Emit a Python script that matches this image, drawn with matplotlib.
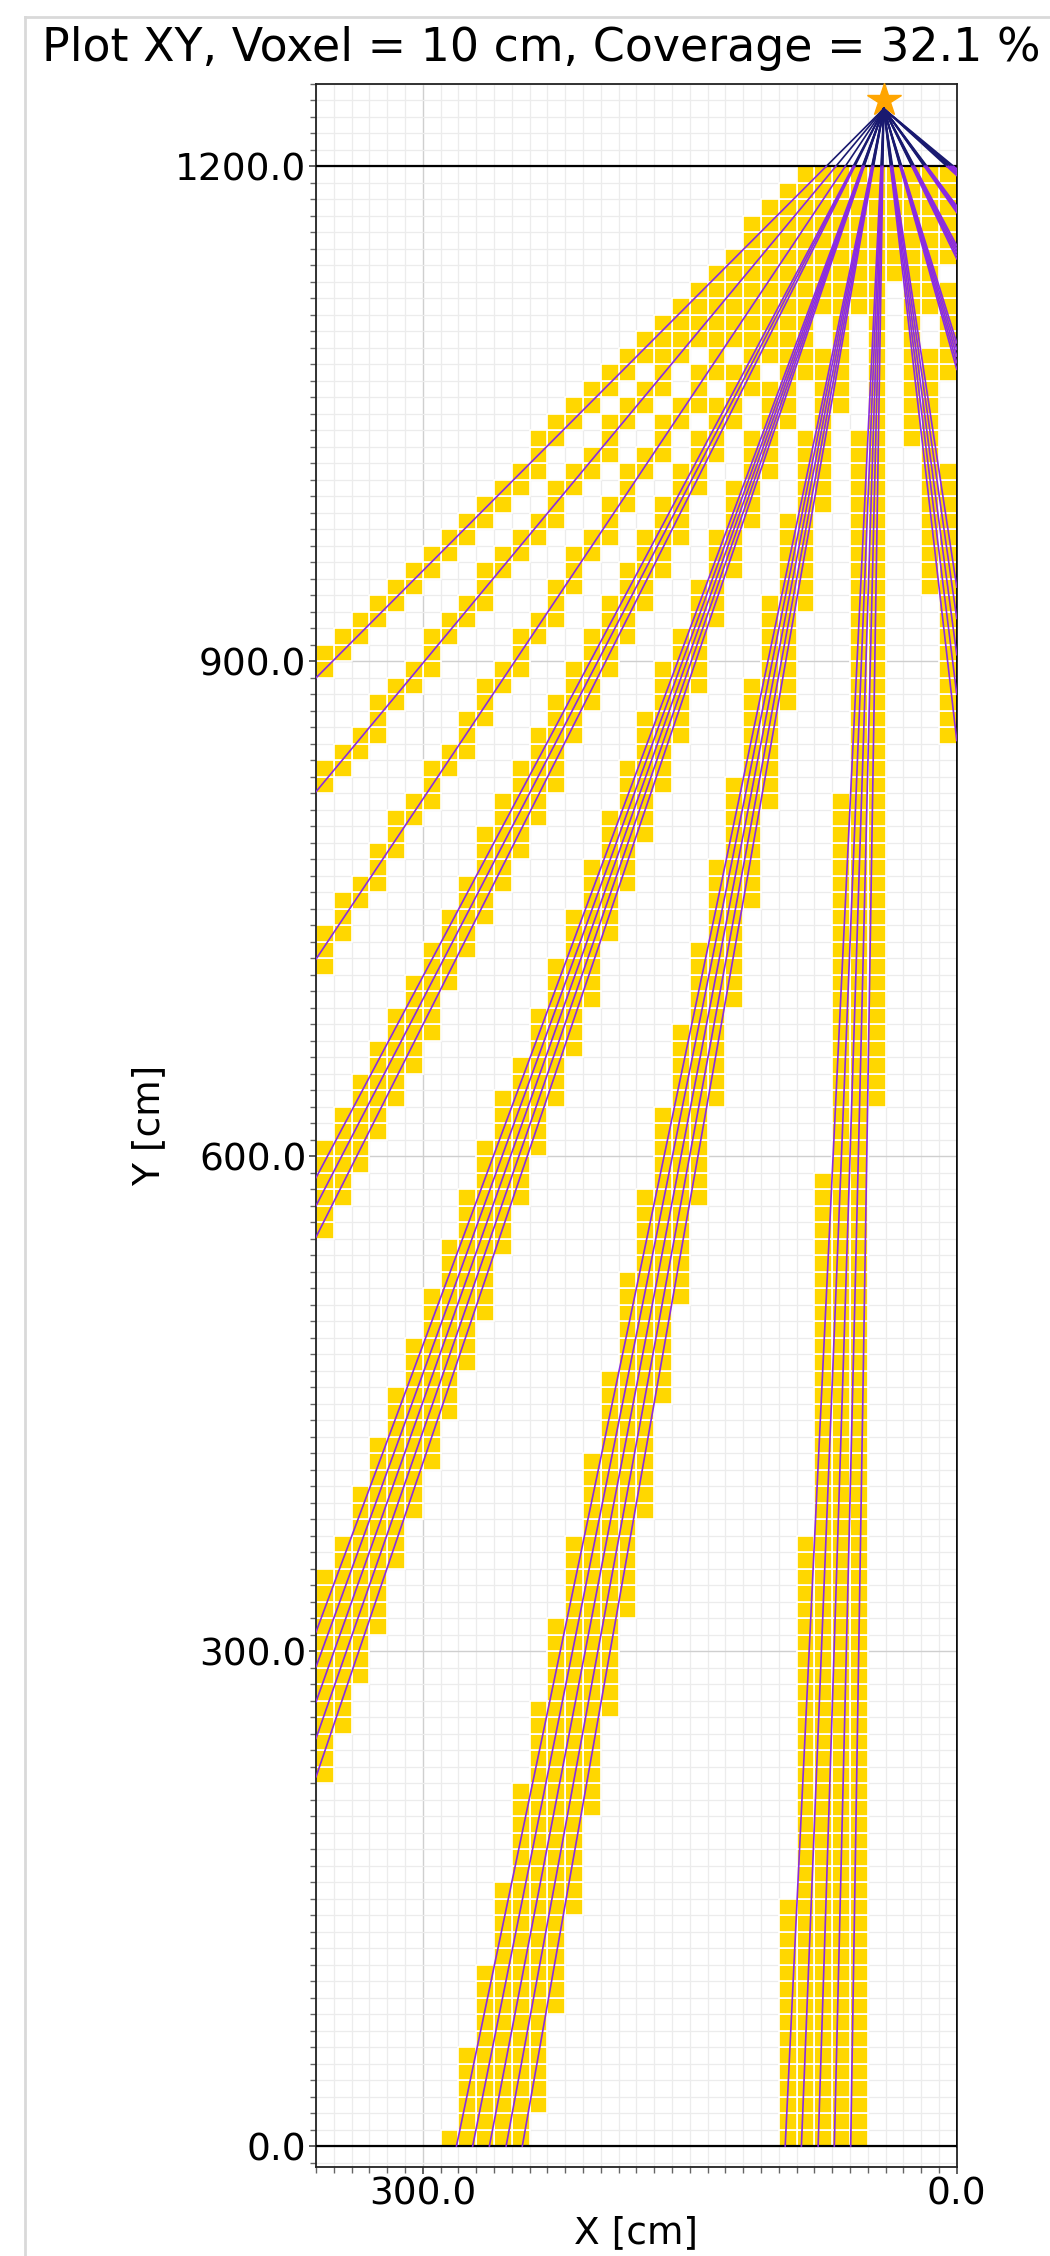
import numpy as np
import matplotlib
matplotlib.use("Agg")
import matplotlib.pyplot as plt
from matplotlib.patches import Rectangle
from matplotlib.collections import PatchCollection
from matplotlib.ticker import MultipleLocator, FormatStrFormatter

# ---- scene parameters (cm) ----
voxel = 10.0
room_top = 1200.0
room_floor = 0.0
view_x = (360.0, 0.0)
view_y = (-12.5, 1250.0)
sensor_x = 41.0
sensor_y = 1235.0

# beams leaving the view through the left edge (x = 360): exit heights
left_exit_y = [890.0, 821.0, 719.5,
               587.0, 570.0, 551.0,
               311.7, 290.5, 269.3, 247.1, 223.8]
# beams ending on the floor (y = 0): exit x positions
floor_exit_x = [281.1, 272.0, 262.6, 253.2, 244.1,
                96.4, 87.3, 77.9, 68.8, 59.6]
# beams ending on the wall x = 0: exit heights
wall_exit_y = [1198.5, 1197.5, 1196.5, 1195.5, 1194.5,
               1176.0, 1175.0, 1174.0, 1173.0, 1172.0,
               1152.0, 1150.0, 1148.0, 1146.0, 1144.0,
               1093.0, 1089.0, 1085.0, 1081.0, 1077.0,
               945.0, 926.0, 904.0, 880.0, 852.0]

title = "Plot XY, Voxel = 10 cm, Coverage = 32.1 %"

# ---- beam end points ----
ends = ([(view_x[0], y) for y in left_exit_y]
        + [(x, room_floor) for x in floor_exit_x]
        + [(0.0, y) for y in wall_exit_y])


def traversed_cells(p0, p1, size):
    """Grid cells crossed by the segment p0 -> p1 (Amanatides & Woo)."""
    x0, y0 = p0
    x1, y1 = p1
    dx, dy = x1 - x0, y1 - y0
    ix, iy = int(np.floor(x0 / size)), int(np.floor(y0 / size))
    sx = 1 if dx > 0 else -1
    sy = 1 if dy > 0 else -1
    if dx != 0:
        nx = (ix + (1 if sx > 0 else 0)) * size
        tmx = (nx - x0) / dx
        tdx = size / abs(dx)
    else:
        tmx, tdx = np.inf, np.inf
    if dy != 0:
        ny = (iy + (1 if sy > 0 else 0)) * size
        tmy = (ny - y0) / dy
        tdy = size / abs(dy)
    else:
        tmy, tdy = np.inf, np.inf
    cells = [(ix, iy)]
    while min(tmx, tmy) < 1.0 - 1e-9:
        if tmx < tmy:
            ix += sx
            tmx += tdx
        else:
            iy += sy
            tmy += tdy
        cells.append((ix, iy))
    return cells


nx_cells = int(round(view_x[0] / voxel))
ny_cells = int(round(room_top / voxel))
hit = set()
for ex, ey in ends:
    for c in traversed_cells((sensor_x, sensor_y), (ex, ey), voxel):
        if 0 <= c[0] < nx_cells and 0 <= c[1] < ny_cells:
            hit.add(c)

# ---- figure ----
fig = plt.figure(figsize=(10.5, 22.56), dpi=100)
fig.patch.set_facecolor("white")

# card outline around the plot
fig.add_artist(plt.Line2D([0.024, 0.024], [0.0, 0.9925], transform=fig.transFigure,
                          color="#d9d9d9", lw=2.0))
fig.add_artist(plt.Line2D([0.024, 1.0], [0.9925, 0.9925], transform=fig.transFigure,
                          color="#d9d9d9", lw=2.0))

ax = fig.add_axes([0.301, 0.0396, 0.6102, 0.9232])
ax.set_xlim(*view_x)
ax.set_ylim(*view_y)

ax.xaxis.set_major_locator(MultipleLocator(300))
ax.yaxis.set_major_locator(MultipleLocator(300))
ax.xaxis.set_minor_locator(MultipleLocator(voxel))
ax.yaxis.set_minor_locator(MultipleLocator(voxel))
ax.xaxis.set_major_formatter(FormatStrFormatter("%.1f"))
ax.yaxis.set_major_formatter(FormatStrFormatter("%.1f"))
ax.grid(which="minor", color="#ececec", lw=0.9)
ax.grid(which="major", color="#cfcfcf", lw=1.0)
ax.set_axisbelow(True)
ax.tick_params(which="major", direction="out", length=5, width=1.2, pad=2,
               labelsize=27, color="#444444")
ax.tick_params(which="minor", direction="out", length=4, width=1.0,
               color="#666666")
for s in ax.spines.values():
    s.set_linewidth(1.3)
    s.set_color("#222222")

# voxels
patches = [Rectangle((i * voxel, j * voxel), voxel, voxel) for i, j in sorted(hit)]
ax.add_collection(PatchCollection(patches, facecolor="#FFD700", edgecolor="white",
                                  linewidth=1.2, zorder=2))

# room boundaries
ax.plot([view_x[0], 0.0], [room_top, room_top], color="black", lw=1.6, zorder=3)
ax.plot([view_x[0], 0.0], [room_floor, room_floor], color="black", lw=1.6, zorder=3)
ax.plot([0.0, 0.0], [room_floor, room_top], color="black", lw=1.8, zorder=3)

# sensor
ax.plot(sensor_x, sensor_y + 5, marker="*", ms=25, color="orange", zorder=4,
        clip_on=False)

# beams: outside part in dark blue, inside part in violet
for ex, ey in ends:
    t = (sensor_y - room_top) / (sensor_y - ey)
    mx = sensor_x + t * (ex - sensor_x)
    ax.plot([sensor_x, mx], [sensor_y, room_top], color="#191970", lw=1.2, zorder=5)
    ax.plot([mx, ex], [room_top, ey], color="#8A2BE2", lw=1.2, zorder=5)

ax.set_xlabel("X [cm]", fontsize=27, labelpad=2)
ax.set_ylabel("Y [cm]", fontsize=27, labelpad=6)
fig.text(0.5157, 0.9785, title, fontsize=33, ha="center", va="center")

fig.savefig("out.png", dpi=100)
